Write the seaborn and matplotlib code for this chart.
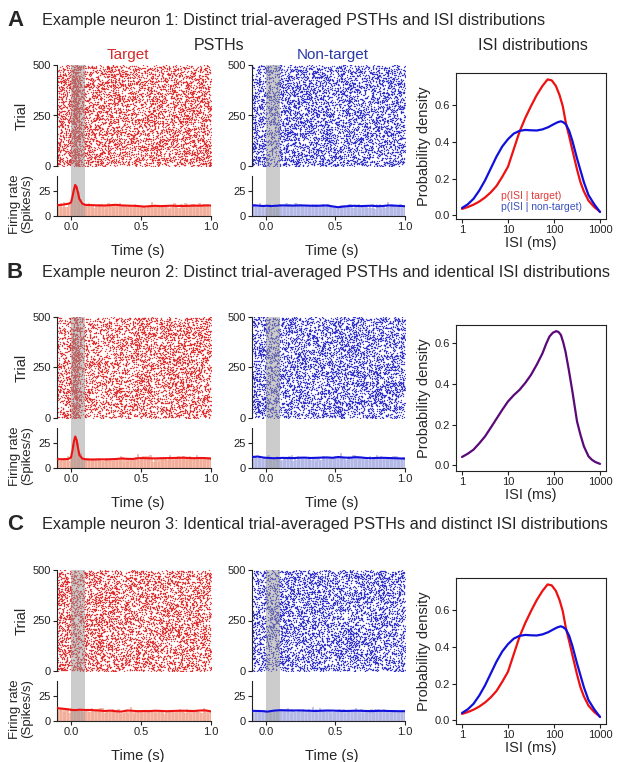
import numpy as np
import pandas as pd
import matplotlib
matplotlib.use("Agg")
import matplotlib.pyplot as plt
import seaborn as sns

sns.set_theme(style="ticks")
plt.rcParams["font.family"] = ["Liberation Sans", "DejaVu Sans"]

# ---------------- data ----------------
titles = [
    "Example neuron 1: Distinct trial-averaged PSTHs and ISI distributions",
    "Example neuron 2: Distinct trial-averaged PSTHs and identical ISI distributions",
    "Example neuron 3: Identical trial-averaged PSTHs and distinct ISI distributions",
]
panel_letters = ["A", "B", "C"]
conditions = ["Target", "Non-target"]

psth_time = [-0.10, -0.08, -0.06, -0.04, -0.02, 0.00, 0.01, 0.02, 0.03, 0.04, 0.05, 0.06,
             0.08, 0.10, 0.12, 0.16, 0.20, 0.24, 0.28, 0.32, 0.36, 0.40, 0.44, 0.48, 0.52,
             0.56, 0.60, 0.64, 0.68, 0.72, 0.76, 0.80, 0.84, 0.88, 0.92, 0.96, 1.00]

n1_target = [10.7, 11.0, 11.3, 11.8, 12.2, 13.5, 19.0, 26.0, 31.0, 29.0, 23.0, 17.0, 12.5,
             11.2, 11.0, 10.8, 10.6, 10.5, 10.8, 11.2, 10.6, 10.4, 10.2, 10.0, 9.4, 9.8, 10.2,
             9.9, 10.1, 10.3, 10.1, 10.0, 10.2, 10.4, 10.3, 10.6, 10.5]
n1_nontarget = [10.5, 10.6, 10.4, 10.2, 10.0, 10.2, 10.3, 10.1, 10.0, 9.9, 10.0, 10.2, 10.3,
                10.5, 10.6, 10.5, 10.4, 10.6, 10.5, 10.3, 10.2, 10.4, 10.5, 9.6, 8.8, 9.5, 10.0,
                10.2, 9.9, 10.1, 10.3, 9.8, 10.0, 10.6, 10.4, 10.1, 9.8]
n2_target = [8.7, 8.8, 8.8, 8.9, 9.0, 10.5, 17.0, 26.0, 31.5, 28.0, 20.0, 13.0, 9.5, 8.8,
             8.6, 8.5, 8.7, 8.6, 8.8, 9.0, 9.5, 9.2, 9.0, 9.8, 9.9, 9.7, 9.6, 9.8, 9.9, 10.0,
             10.1, 10.3, 10.0, 9.8, 10.0, 9.9, 9.4]
n2_nontarget = [11.0, 11.2, 11.5, 11.0, 10.5, 10.2, 10.2, 10.0, 10.0, 9.9, 9.8, 9.8, 9.9,
                10.0, 10.1, 10.0, 9.9, 10.3, 10.4, 10.0, 10.2, 10.4, 10.6, 10.2, 11.0, 10.5,
                10.2, 10.8, 10.6, 10.0, 9.8, 10.1, 10.2, 10.0, 9.8, 9.6, 9.4]
n3_target = [13.0, 12.6, 12.3, 12.0, 11.6, 11.2, 11.0, 11.0, 10.9, 11.0, 11.2, 11.3, 11.2,
             11.0, 11.1, 10.8, 10.5, 10.0, 10.4, 9.8, 9.4, 10.5, 10.2, 9.8, 10.0, 9.9, 10.3,
             10.1, 9.8, 10.0, 10.2, 10.3, 10.1, 10.0, 10.5, 10.6, 9.6]
n3_nontarget = [10.2, 10.1, 10.0, 10.0, 9.8, 9.5, 9.4, 9.6, 9.8, 10.0, 10.2, 10.4, 10.6,
                10.8, 10.7, 10.6, 10.5, 10.6, 10.4, 10.2, 10.0, 10.3, 10.5, 10.4, 10.2, 10.0,
                10.1, 10.3, 10.2, 10.0, 9.9, 10.1, 10.2, 10.0, 9.9, 9.8, 9.8]
psth_rates = [(n1_target, n1_nontarget), (n2_target, n2_nontarget), (n3_target, n3_nontarget)]
n_trials = 500

# ISI densities, x given as log10(ISI in ms)
isi_red_log = [0, 0.125, 0.25, 0.375, 0.5, 0.625, 0.75, 0.875, 1.0, 1.125, 1.25, 1.375, 1.5,
               1.625, 1.75, 1.86, 1.95, 2.04, 2.12, 2.19, 2.26, 2.33, 2.4, 2.5, 2.575, 2.65,
               2.75, 2.875, 3.0]
isi_red = [0.035, 0.045, 0.058, 0.075, 0.097, 0.125, 0.160, 0.210, 0.265, 0.360, 0.455,
           0.530, 0.595, 0.655, 0.705, 0.740, 0.735, 0.705, 0.655, 0.595, 0.500, 0.430,
           0.355, 0.250, 0.180, 0.130, 0.080, 0.045, 0.020]
isi_blue_log = [0, 0.125, 0.25, 0.375, 0.5, 0.625, 0.75, 0.875, 1.0, 1.125, 1.25, 1.375, 1.5,
                1.625, 1.75, 1.875, 2.0, 2.08, 2.15, 2.2, 2.26, 2.33, 2.4, 2.5, 2.575, 2.65,
                2.75, 2.875, 3.0]
isi_blue = [0.040, 0.060, 0.090, 0.135, 0.190, 0.255, 0.320, 0.375, 0.415, 0.445, 0.460,
            0.465, 0.463, 0.462, 0.468, 0.480, 0.497, 0.507, 0.512, 0.507, 0.495, 0.460,
            0.405, 0.310, 0.245, 0.180, 0.110, 0.060, 0.018]
isi_purple_log = [0, 0.125, 0.25, 0.375, 0.5, 0.625, 0.75, 0.875, 1.0, 1.125, 1.25, 1.375,
                  1.5, 1.625, 1.75, 1.825, 1.9, 1.975, 2.05, 2.1, 2.15, 2.2, 2.25, 2.325, 2.4,
                  2.5, 2.575, 2.65, 2.75, 2.825, 2.9, 3.0]
isi_purple = [0.041, 0.057, 0.077, 0.108, 0.142, 0.185, 0.229, 0.273, 0.314, 0.345, 0.371,
              0.405, 0.445, 0.495, 0.551, 0.595, 0.633, 0.652, 0.660, 0.655, 0.641, 0.605,
              0.559, 0.465, 0.363, 0.216, 0.150, 0.093, 0.044, 0.027, 0.016, 0.007]

# ---------------- styling ----------------
RED = "#ee1111"
BLUE = "#1010dd"
PURPLE = "#5a0a78"
RED_DOT = "#e02828"
BLUE_DOT = "#2a2ac8"
RED_BAR, RED_EDGE = "#f8c0ae", "#eea28c"
BLUE_BAR, BLUE_EDGE = "#c6c9ef", "#a9addf"
GREY = "#9a9a9a"

W, H = 617, 762
fig = plt.figure(figsize=(W / 100, H / 100), dpi=100)


def add_ax(x0, y0, x1, y1):
    return fig.add_axes([x0 / W, 1 - y1 / H, (x1 - x0) / W, (y1 - y0) / H])


def ftext(x, y, s, **kw):
    fig.text(x / W, 1 - y / H, s, **kw)


rng = np.random.default_rng(7)
TICK = 8


def make_raster(rate):
    rate = np.asarray(rate)
    rmax = rate.max()
    times, trials = [], []
    for tr in range(n_trials):
        n = rng.poisson(rmax * 1.1)
        t = rng.uniform(-0.1, 1.0, n)
        keep = rng.uniform(0, rmax, n) < np.interp(t, psth_time, rate)
        times.append(t[keep])
        trials.append(np.full(keep.sum(), tr))
    return pd.DataFrame({"time": np.concatenate(times), "trial": np.concatenate(trials)})


def style_ax(ax):
    ax.tick_params(labelsize=TICK, length=3, width=0.8, pad=1.5, colors="#222222")
    for s in ax.spines.values():
        s.set_linewidth(0.8)
        s.set_color("#222222")


offsets = [0, 252, 505]
for p in range(3):
    o = offsets[p]
    ftext(7, 20 + o, panel_letters[p], fontsize=16, fontweight="bold", va="center", ha="left")
    ftext(42, 20 + o, titles[p], fontsize=11.7, va="center", ha="left")

    for c in range(2):
        x0, x1 = (57, 211) if c == 0 else (252, 405)
        rate = psth_rates[p][c]
        dot = RED_DOT if c == 0 else BLUE_DOT
        line_c = RED if c == 0 else BLUE
        bar_c, edge_c = (RED_BAR, RED_EDGE) if c == 0 else (BLUE_BAR, BLUE_EDGE)

        df = make_raster(rate)
        axr = add_ax(x0, 65 + o, x1, 166 + o)
        sns.scatterplot(data=df, x="time", y="trial", ax=axr, s=1.0, marker="o",
                        color=dot, linewidth=0, alpha=0.9, legend=False)
        axr.set_xlim(-0.1, 1.0)
        axr.set_ylim(0, 500)
        axr.set_yticks([0, 250, 500])
        axr.set_xticks([])
        axr.set_xlabel("")
        axr.set_ylabel("")
        sns.despine(ax=axr, bottom=True)
        style_ax(axr)
        axr.axvspan(0, 0.1, ymin=-0.1, ymax=1, color=GREY, alpha=0.5, lw=0,
                    clip_on=False, zorder=3)

        axp = add_ax(x0, 176 + o, x1, 216 + o)
        sns.histplot(x=df["time"], binwidth=0.01, binrange=(-0.1, 1.0),
                     weights=np.full(len(df), 1.0 / (n_trials * 0.01)),
                     ax=axp, color=bar_c, edgecolor=edge_c, linewidth=0.4,
                     alpha=1.0, zorder=1)
        axp.axvspan(0, 0.1, color=GREY, alpha=0.5, lw=0, zorder=2)
        sns.lineplot(x=psth_time, y=rate, ax=axp, color=line_c, lw=1.5, zorder=3)
        axp.set_xlim(-0.1, 1.0)
        axp.set_ylim(0, 40)
        axp.set_yticks([0, 25])
        axp.set_xticks([0, 0.5, 1.0])
        axp.set_xticklabels(["0.0", "0.5", "1.0"])
        axp.set_xlabel("")
        axp.set_ylabel("")
        sns.despine(ax=axp)
        style_ax(axp)

        ftext(138 if c == 0 else 332, 251 + o, "Time (s)", fontsize=10.5,
              ha="center", va="center")

    ftext(22, 116 + o, "Trial", fontsize=10.5, rotation=90, ha="center", va="center")
    ftext(21, 204 + o, "Firing rate\n(Spikes/s)", fontsize=9.5, rotation=90,
          ha="center", va="center", linespacing=0.95)

    axi = add_ax(456, 73 + o, 606, 219 + o)
    if p == 1:
        sns.lineplot(x=10 ** np.asarray(isi_purple_log), y=isi_purple, ax=axi,
                     color=PURPLE, lw=1.6)
        axi.set_ylim(-0.028, 0.69)
    else:
        sns.lineplot(x=10 ** np.asarray(isi_red_log), y=isi_red, ax=axi, color=RED, lw=1.6,
                     label="p(ISI | target)" if p == 0 else None)
        sns.lineplot(x=10 ** np.asarray(isi_blue_log), y=isi_blue, ax=axi, color=BLUE,
                     lw=1.6, label="p(ISI | non-target)" if p == 0 else None)
        axi.set_ylim(-0.02, 0.775)
    axi.set_xscale("log")
    axi.set_xlim(0.74, 1350)
    axi.set_xticks([1, 10, 100, 1000])
    axi.set_xticklabels(["1", "10", "100", "1000"])
    axi.minorticks_off()
    axi.set_yticks([0.0, 0.2, 0.4, 0.6])
    axi.set_yticklabels(["0.0", "0.2", "0.4", "0.6"])
    axi.set_xlabel("")
    axi.set_ylabel("")
    style_ax(axi)
    if p == 0:
        leg = axi.legend(loc="lower left", bbox_to_anchor=(0.27, 0.02), frameon=False,
                         handlelength=0, handletextpad=0, fontsize=7.5,
                         borderaxespad=0, labelspacing=0.1)
        for h in leg.legend_handles:
            h.set_visible(False)
        for t, col in zip(leg.get_texts(), ["#e03a3a", "#3a50c0"]):
            t.set_color(col)
    elif axi.get_legend() is not None:
        axi.get_legend().remove()

    ftext(531, 243 + o, "ISI (ms)", fontsize=10.5, ha="center", va="center")
    ftext(424, 146 + o, "Probability density", fontsize=10.5, rotation=90,
          ha="center", va="center")

ftext(219, 45, "PSTHs", fontsize=11.5, ha="center", va="center")
ftext(127.5, 55, "Target", fontsize=11, ha="center", va="center", color="#d42a2a")
ftext(332.5, 55, "Non-target", fontsize=11, ha="center", va="center", color="#2a3aa8")
ftext(533, 45, "ISI distributions", fontsize=11.5, ha="center", va="center")

fig.savefig("out.png", dpi=100)
